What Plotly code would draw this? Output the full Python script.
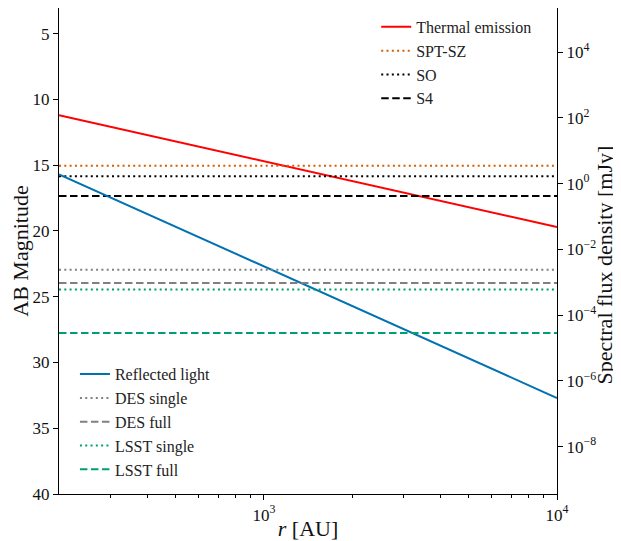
import numpy as np
import plotly.graph_objects as go

# ---- data ----
r_range = [200, 10000]                 # AU, extent of the curves
thermal_mag = [11.2, 19.7]             # Thermal emission (AB mag) at r_range ends
reflected_mag = [15.7, 32.7]           # Reflected light (AB mag) at r_range ends

cmb_names = ["SPT-SZ", "SO", "S4"]
cmb_mags = [15.05, 15.85, 17.35]
opt_names = ["DES single", "DES full", "LSST single", "LSST full"]
opt_mags = [22.95, 23.95, 24.45, 27.75]

mag_range = [40, 3.05]                 # bottom, top
x_major = [1000, 10000]
x_major_text = ["10<sup>3</sup>", "10<sup>4</sup>"]
x_minor = [300, 400, 500, 600, 700, 800, 900,
           2000, 3000, 4000, 5000, 6000, 7000, 8000, 9000]
y_ticks = [5, 10, 15, 20, 25, 30, 35, 40]
flux_exps = [4, 2, 0, -2, -4, -6, -8]

FONT = "Liberation Serif"
RED = "#ff0000"
ORANGE = "#d55e00"
BLUE = "#0072b2"
GREEN = "#009e73"
GRAY = "#808080"
BLACK = "#000000"
DOT = "2px,3.3px"
DASH = "7.5px,3.5px"

fig = go.Figure()

fig.add_trace(go.Scatter(x=r_range, y=thermal_mag, mode="lines", name="Thermal emission",
                         line=dict(color=RED, width=2), legend="legend"))
styles_cmb = [(ORANGE, DOT), (BLACK, DOT), (BLACK, DASH)]
for n, m, (c, d) in zip(cmb_names, cmb_mags, styles_cmb):
    fig.add_trace(go.Scatter(x=r_range, y=[m, m], mode="lines", name=n,
                             line=dict(color=c, width=2, dash=d), legend="legend"))

fig.add_trace(go.Scatter(x=r_range, y=reflected_mag, mode="lines", name="Reflected light",
                         line=dict(color=BLUE, width=2), legend="legend2"))
styles_opt = [(GRAY, DOT), (GRAY, DASH), (GREEN, DOT), (GREEN, DASH)]
for n, m, (c, d) in zip(opt_names, opt_mags, styles_opt):
    fig.add_trace(go.Scatter(x=r_range, y=[m, m], mode="lines", name=n,
                             line=dict(color=c, width=2, dash=d), legend="legend2"))

# dummy trace to attach the right axis
fig.add_trace(go.Scatter(x=[None], y=[None], yaxis="y2", showlegend=False, hoverinfo="skip"))

# AB magnitude -> mJy
def mag_to_logmJy(m):
    return np.log10(3631e3) - 0.4 * m

y2_range = [mag_to_logmJy(mag_range[0]), mag_to_logmJy(mag_range[1])]

axis_common = dict(showline=True, linecolor="black", linewidth=1.3, ticks="outside",
                   tickcolor="black", ticklen=5, tickwidth=1.1, showgrid=False,
                   zeroline=False, automargin=False,
                   tickfont=dict(family=FONT, size=17, color="#111"))
TITLE_FONT = dict(family=FONT, size=22, color="#111")

# page body has an 8px margin: figure sized so the plot box lands where the reference has it
fig.update_layout(
    width=613, height=533,
    margin=dict(l=51, r=64, t=0, b=47),
    paper_bgcolor="white", plot_bgcolor="white",
    font=dict(family=FONT, color="#111"),
    xaxis=dict(type="log", range=[np.log10(r_range[0]), np.log10(r_range[1])],
               tickvals=x_major, ticktext=x_major_text, mirror=True,
               minor=dict(tickvals=x_minor, ticks="outside", ticklen=3,
                          tickcolor="black", tickwidth=0.8),
               title=dict(text="<i>r</i> [AU]", font=TITLE_FONT, standoff=0),
               **axis_common),
    yaxis=dict(range=mag_range, tickvals=y_ticks,
               title=dict(text="AB Magnitude", font=TITLE_FONT, standoff=3),
               **axis_common),
    yaxis2=dict(type="log", range=y2_range, overlaying="y", side="right", anchor="x",
                tickvals=[10.0 ** e for e in flux_exps],
                ticktext=[f"10<sup>{e}</sup>".replace("-", "\u2212") for e in flux_exps],
                **axis_common),
    legend=dict(x=0.637, y=0.996, xanchor="left", yanchor="top",
                bgcolor="rgba(255,255,255,0)", borderwidth=0,
                font=dict(family=FONT, size=16, color="#222")),
    legend2=dict(x=0.032, y=0.016, xanchor="left", yanchor="bottom",
                 bgcolor="rgba(255,255,255,0)", borderwidth=0,
                 font=dict(family=FONT, size=16, color="#222")),
    annotations=[dict(text="Spectral flux density [mJy]", xref="paper", yref="paper",
                      x=1.0964, y=0.47, xanchor="center", yanchor="middle",
                      textangle=-90, showarrow=False, font=TITLE_FONT)],
)

fig.write_html("out.html")
